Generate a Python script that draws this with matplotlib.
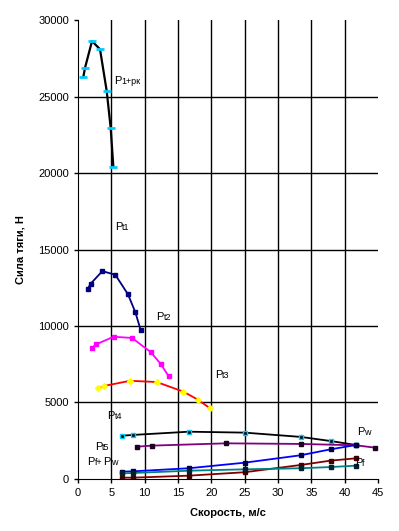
import matplotlib
matplotlib.use("Agg")
import matplotlib.pyplot as plt

plt.rcParams['font.family'] = ['Liberation Sans', 'DejaVu Sans']

# traction force curves, speed in m/s, force in N
v_p1 = [0.8, 1.05, 2.1, 3.3, 4.3, 4.9, 5.3]
p_p1 = [26290, 26880, 28630, 28100, 25380, 22960, 20410]

v_t1 = [1.45, 1.9, 3.65, 5.6, 7.5, 8.6, 9.4]
p_t1 = [12420, 12770, 13590, 13350, 12070, 10900, 9740]

v_t2 = [2.15, 2.7, 5.35, 8.1, 10.9, 12.4, 13.6]
p_t2 = [8580, 8800, 9300, 9220, 8300, 7520, 6710]

v_t3 = [3.05, 3.9, 7.8, 11.8, 15.8, 18.0, 19.8]
p_t3 = [5930, 6080, 6420, 6340, 5710, 5180, 4620]

v_t4 = [6.6, 8.3, 16.6, 25.0, 33.4, 37.9, 41.7]
p_t4 = [2830, 2880, 3090, 3030, 2750, 2480, 2220]

v_t5 = [8.8, 11.1, 22.2, 33.4, 41.7, 44.5]
p_t5 = [2110, 2180, 2330, 2290, 2200, 2050]

# resistance curves
v_res = [6.6, 8.3, 16.6, 25.0, 33.4, 37.9, 41.7]
p_fw = [480, 500, 700, 1065, 1550, 1940, 2220]
p_w = [85, 85, 215, 440, 915, 1200, 1350]
p_f = [370, 390, 540, 630, 700, 780, 870]

fig = plt.figure(figsize=(3.99, 5.31), dpi=100)
ax = fig.add_axes([0.1955, 0.098, 0.752, 0.864])

ax.plot(v_p1, p_p1, color='black', lw=1.6, marker='_', ms=6, mew=2, mec='#00ccff')
ax.plot(v_t1, p_t1, color='#000080', lw=1.3, marker='s', ms=2.5, mfc='#000080', mec='#000080')
ax.plot(v_t2, p_t2, color='#ff00ff', lw=1.3, marker='s', ms=2.5, mfc='#ff00ff', mec='#ff00ff')
ax.plot(v_t3, p_t3, color='red', lw=1.3, marker='D', ms=3, mfc='yellow', mec='yellow')
ax.plot(v_t4, p_t4, color='black', lw=1.3, marker='s', ms=3, mfc='black', mec='#00ccff')
ax.plot(v_t5, p_t5, color='#800080', lw=1.3, marker='s', ms=2.5, mfc='#200020', mec='#200020')
ax.plot(v_res, p_fw, color='#0000ff', lw=1.3, marker='s', ms=2.5, mfc='#000040', mec='#000040')
ax.plot(v_res, p_w, color='#800000', lw=1.3, marker='s', ms=2.5, mfc='#400000', mec='#400000')
ax.plot(v_res, p_f, color='#008080', lw=1.3, marker='s', ms=2.5, mfc='#002030', mec='#002030')


def label(x, y, small, dx=0):
    ax.annotate('P', (x, y), xytext=(dx, 0), textcoords='offset points',
                fontsize=8, va='baseline', ha='left')
    ax.annotate(small, (x, y), xytext=(dx + 5.5, 0), textcoords='offset points',
                fontsize=6.5, va='baseline', ha='left')


label(5.4, 25800, '1+рк')
label(5.5, 16300, 't1')
label(11.7, 10400, 't2')
label(20.5, 6600, 't3')
label(4.4, 3950, 't4')
label(2.5, 1890, 't5')
label(1.4, 900, 'f+')
label(1.4, 900, 'w', dx=11.5)
label(41.8, 2900, 'w')
label(41.5, 880, 'f')

ax.set_xlim(0, 45)
ax.set_ylim(0, 30000)
ax.set_xticks(range(0, 46, 5))
ax.set_yticks(range(0, 30001, 5000))
ax.tick_params(labelsize=8, length=3, width=1, direction='out')
for x in range(5, 45, 5):
    ax.axvline(x, color='black', lw=1, zorder=0)
for y in range(5000, 30000, 5000):
    ax.axhline(y, color='black', lw=1, zorder=0)
ax.spines['top'].set_visible(False)
ax.spines['right'].set_visible(False)

ax.set_xlabel('Скорость, м/с', fontsize=8, fontweight='bold', labelpad=7)
ax.set_ylabel('Сила тяги, Н', fontsize=8, fontweight='bold', labelpad=9)

fig.savefig('out.png', dpi=100)
